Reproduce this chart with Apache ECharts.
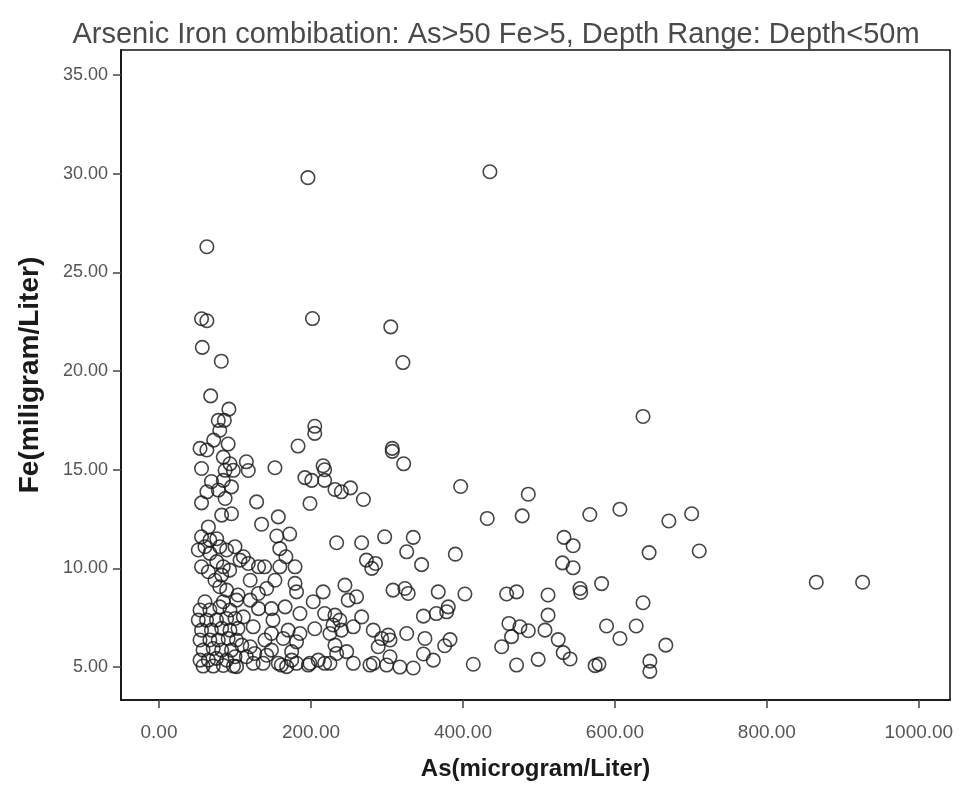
<!DOCTYPE html>
<html>
<head>
<meta charset="utf-8">
<script src="https://cdn.jsdelivr.net/npm/echarts@6/dist/echarts.min.js"></script>
<style>
html,body{margin:0;padding:0;background:#fff;}
#chart{width:962px;height:790px;}
</style>
</head>
<body>
<div id="chart"></div>
<script>
const titleText = "Arsenic Iron combibation: As>50 Fe>5, Depth Range: Depth<50m";
const xAxisName = "As(microgram/Liter)";
const yAxisName = "Fe(miligram/Liter)";
const xTicks = [0, 200, 400, 600, 800, 1000];
const yTicks = [5, 10, 15, 20, 25, 30, 35];

// As (microgram/Liter)
const asValues = [
435.5,196,63,56,63,202,305,57,82,321,68,92,78,86,205,205,183,307,
54,63,72,91,80,307,322,218,152.6,216,192,201,218,231.6,240,252,269,198.7,128.5,115,117.5,135,157,172,155,
84.6,93.4,87,56,97.8,69,84.6,95.4,63,78,56,87,82.5,95.4,65,56,67,76,51.7,60.5,80,89,100,67,76,56,65,84.6,82.5,93,73.7,106.6,80,89,104,
233.8,266.7,297,334.6,326,345.6,273,280,285,308,323.7,328,367.5,348,365,244.7,260,249,216,203,179,181,141.7,139,159,179,117.5,131,
111,159,167,120,102,120,131,148,166,185.5,150,170,185.5,181,205,225,231.6,238,229,240,255.7,218,266.7,282,293,301.7,288.5,304,326,350,
334.6,317,361,299.6,282,255.7,247,231.6,233.8,209.6,218,225,198.7,181,168,174.6,157,141.7,124,102,126,163.5,148,139.5,111,124,109,115,137,
60.5,54,67,80,93.4,84.6,51.7,62.6,75.7,89,100,56,69,82.5,93.4,104,54,67,78,91,102,58,71.4,82.5,95.4,54,65,75.7,89,100,58,71.4,84.6,98,
637,397,486,432,478,567,606.6,671,701,390,533,545,531,545,645,711,402.6,457.5,470.6,512,554,555,582.5,637,380.7,378.6,460.5,475,486,512,508,525.4,
589,606.6,628,667,383,376,451,464,532,541,348,413.6,470.6,499,574,579,646,646,304,865,926,
152.6,130.7,120,148,174.6,161,196.5,277.6
];
// Fe (miligram/Liter)
const feValues = [
30.1,29.8,26.3,22.65,22.55,22.66,22.24,21.2,20.5,20.43,18.74,18.07,17.5,17.5,17.2,16.84,16.2,16.08,
16.08,16.0,16.5,16.3,17.0,15.93,15.3,15.0,15.1,15.2,14.6,14.46,14.46,14.0,13.88,14.08,13.49,13.29,13.37,15.4,14.96,12.24,12.61,11.74,11.64,
15.64,15.3,14.97,15.06,14.97,14.4,14.46,14.13,13.88,13.97,13.32,13.54,12.7,12.77,12.1,11.6,11.43,11.5,10.93,11.1,11.1,10.93,11.1,10.76,10.34,10.08,9.83,10.08,9.66,9.91,9.4,10.42,9.07,8.9,8.65,
11.3,11.3,11.6,11.57,10.84,10.19,10.42,10.0,10.25,8.9,8.98,8.73,8.81,7.58,7.71,9.15,8.56,8.39,8.81,8.31,9.24,8.81,8.98,10.08,10.08,10.08,10.25,10.08,
10.59,11.0,10.59,9.4,8.39,8.39,7.96,7.96,8.05,7.71,7.38,6.87,6.7,6.28,6.94,6.7,7.63,7.38,7.13,6.87,7.04,7.71,7.54,6.87,6.45,6.62,6.03,6.37,6.7,6.45,
4.95,5.0,5.35,5.1,5.19,5.19,5.78,6.11,5.69,5.35,5.19,5.19,5.19,5.19,5.02,5.35,5.19,5.6,5.19,5.02,5.69,6.45,6.7,6.37,7.54,7.04,6.11,5.52,5.19,
8.31,7.89,7.89,8.05,7.89,8.31,7.38,7.38,7.38,7.46,7.46,6.87,6.87,6.96,6.87,6.96,6.37,6.37,6.37,6.45,6.37,5.86,5.94,5.86,5.86,5.35,5.35,5.44,5.35,5.52,5.05,5.05,5.08,5.05,
17.7,14.15,13.76,12.53,12.66,12.73,13.0,12.4,12.77,10.72,11.57,11.15,10.28,10.03,10.8,10.88,8.7,8.7,8.81,8.65,8.98,8.78,9.23,8.26,8.05,7.8,7.21,7.04,6.84,7.63,6.87,6.39,
7.08,6.45,7.08,6.11,6.39,6.08,6.03,6.54,5.73,5.41,5.66,5.14,5.1,5.39,5.07,5.15,5.3,4.78,5.52,9.3,9.3,
9.4,8.73,6.03,5.86,5.78,5.1,5.1,5.1
];

const points = asValues.map((a, i) => [a, feValues[i]]);

const chart = echarts.init(document.getElementById('chart'), null, {renderer: 'canvas'});
const fontTicks = "'Liberation Sans', Arial, sans-serif";
chart.setOption({
  animation: false,
  backgroundColor: '#ffffff',
  title: {
    text: titleText,
    left: 491,
    textAlign: 'center',
    top: 15,
    textStyle: {
      fontFamily: "'Liberation Sans', Arial, sans-serif",
      fontWeight: 'normal',
      fontSize: 29,
      color: '#4a4a4a'
    }
  },
  grid: {
    left: 121, right: 12, top: 50, bottom: 90,
    show: true,
    borderColor: '#111',
    borderWidth: 1.6,
    backgroundColor: 'transparent'
  },
  xAxis: {
    type: 'value',
    min: -50,
    max: 1041,
    name: xAxisName,
    nameLocation: 'middle',
    nameGap: 57,
    nameTextStyle: {
      fontFamily: fontTicks, fontWeight: 'bold', fontSize: 24, color: '#1a1a1a'
    },
    axisLine: {show: true, onZero: false, lineStyle: {color: '#111', width: 1.6}},
    axisTick: {show: true, length: 8, customValues: xTicks, lineStyle: {color: '#444', width: 1.5}},
    axisLabel: {
      customValues: xTicks,
      margin: 23,
      fontFamily: fontTicks,
      fontSize: 19,
      color: '#555',
      formatter: v => v.toFixed(2)
    },
    splitLine: {show: false}
  },
  yAxis: {
    type: 'value',
    min: 3.33,
    max: 36.27,
    name: yAxisName,
    nameLocation: 'middle',
    nameGap: 77,
    nameTextStyle: {
      fontFamily: fontTicks, fontWeight: 'bold', fontSize: 28, color: '#1a1a1a'
    },
    axisLine: {show: true, onZero: false, lineStyle: {color: '#111', width: 1.6}},
    axisTick: {show: true, length: 8, customValues: yTicks, lineStyle: {color: '#444', width: 1.5}},
    axisLabel: {
      customValues: yTicks,
      margin: 13,
      fontFamily: fontTicks,
      fontSize: 18,
      color: '#555',
      formatter: v => v.toFixed(2)
    },
    splitLine: {show: false}
  },
  series: [{
    type: 'scatter',
    data: points,
    symbol: 'circle',
    symbolSize: 13.5,
    itemStyle: {
      color: 'rgba(0,0,0,0)',
      borderColor: '#161616',
      borderWidth: 1.6
    },
    emphasis: {disabled: true},
    silent: true
  }]
});
</script>
</body>
</html>
